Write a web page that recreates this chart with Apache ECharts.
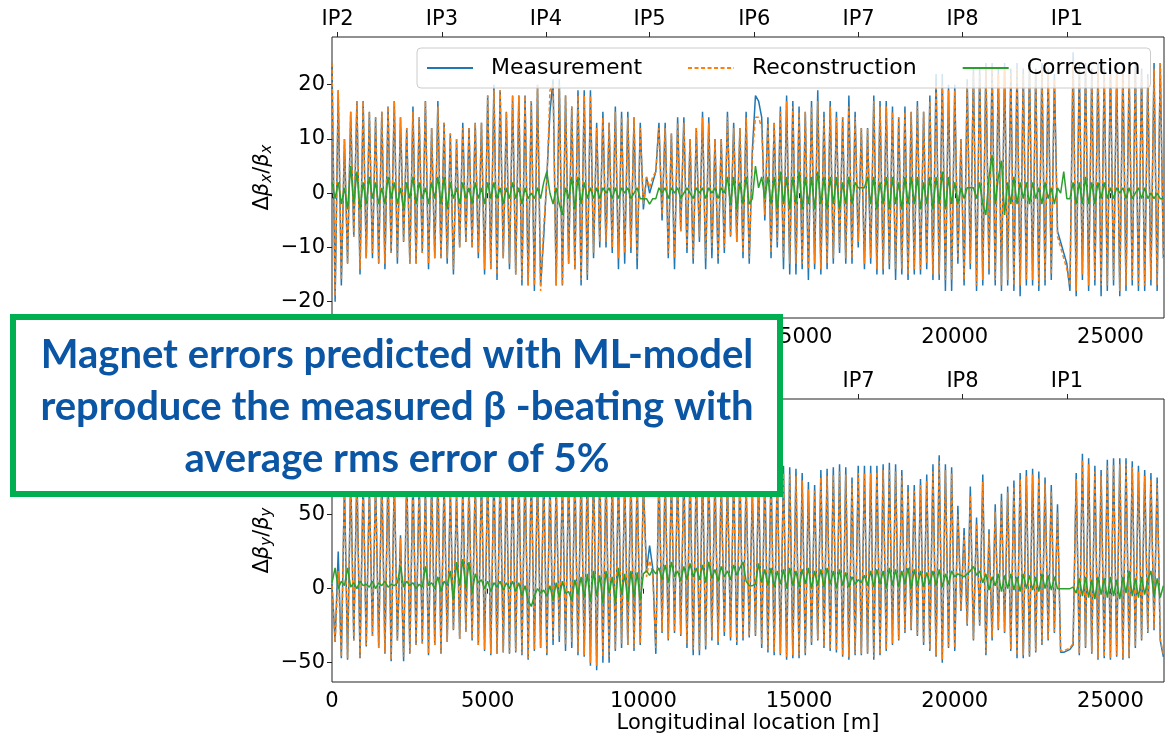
<!DOCTYPE html>
<html><head><meta charset="utf-8">
<script src="https://cdn.jsdelivr.net/npm/echarts@6.0.0/dist/echarts.min.js"></script>
<style>html,body{margin:0;padding:0;background:#fff}#c{width:1171px;height:735px}</style>
</head><body><div id="c"></div>
<script>
// ---------------- data ----------------
const sPos = [
0,100,200,300,400,500,600,700,800,900,1000,1100,1200,1300,1400,1500,1600,1700,1800,1900,
2000,2100,2200,2300,2400,2500,2600,2700,2800,2900,3000,3100,3200,3300,3400,3500,3600,3700,3800,3900,
4000,4100,4200,4300,4400,4500,4600,4700,4800,4900,5000,5100,5200,5300,5400,5500,5600,5700,5800,5900,
6000,6100,6200,6300,6400,6500,6600,6700,6800,6900,7000,7100,7200,7300,7400,7500,7600,7700,7800,7900,
8000,8100,8200,8300,8400,8500,8600,8700,8800,8900,9000,9100,9200,9300,9400,9500,9600,9700,9800,9900,
10000,10100,10200,10300,10400,10500,10600,10700,10800,10900,11000,11100,11200,11300,11400,11500,11600,11700,11800,11900,
12000,12100,12200,12300,12400,12500,12600,12700,12800,12900,13000,13100,13200,13300,13400,13500,13600,13700,13800,13900,
14000,14100,14200,14300,14400,14500,14600,14700,14800,14900,15000,15100,15200,15300,15400,15500,15600,15700,15800,15900,
16000,16100,16200,16300,16400,16500,16600,16700,16800,16900,17000,17100,17200,17300,17400,17500,17600,17700,17800,17900,
18000,18100,18200,18300,18400,18500,18600,18700,18800,18900,19000,19100,19200,19300,19400,19500,19600,19700,19800,19900,
20000,20100,20200,20300,20400,20500,20600,20700,20800,20900,21000,21100,21200,21300,21400,21500,21600,21700,21800,21900,
22000,22100,22200,22300,22400,22500,22600,22700,22800,22900,23000,23100,23200,23300,23400,23500,23600,23700,23800,23900,
24000,24100,24200,24300,24400,24500,24600,24700,24800,24900,25000,25100,25200,25300,25400,25500,25600,25700,25800,25900,
26000,26100,26200,26300,26400,26500,26600,26700];

// horizontal beta-beating (%)
const measX = [
24,-20,19,-17,10,-13,15,-8,17,-15,17,-12,15,-12,14,-13,15,-14,16,-11,
17,-13,14,-9,12,-13,16,-13,14,-11,17,-14,12,-12,17,-12,13,-13,11,-15,
10,-10,13,-9,12,-10,13,-12,13,-15,18,-14,20,-16,19,-12,15,-14,18,-15,
18,-17,18,-17,17,-18,20,-17,-8,3,15,21,-17,21,-17,18,-13,16,-14,19,
-17,19,-16,19,-12,13,-10,15,-10,13,-11,16,-14,15,-13,15,-11,14,-14,13,
-3,3,0,2,4,13,-5,13,-12,11,-14,14,-7,14,-11,10,-13,12,-9,15,
-14,14,-12,10,-13,10,-11,15,-8,13,-9,12,-12,15,-13,8,18,17,14,-5,
14,-12,13,-10,16,-14,18,-15,17,-15,16,-14,15,-16,17,-14,19,-15,15,-14,
17,-13,15,-11,14,-13,18,-13,15,-10,12,-14,12,-13,18,-15,17,-15,17,-14,
16,-16,14,-15,16,-16,15,-15,17,-15,15,-14,18,-16,22,-16,22,-18,20,-18,
20,-13,10,-17,21,-14,23,-18,23,-17,24,-15,24,-17,23,-18,24,-17,23,-18,
24,-19,23,-17,24,-17,23,-18,24,-17,23,-16,22,-7,-9,-11,-13,-18,26,-19,
24,-16,24,-18,23,-17,24,-19,23,-18,24,-17,23,-19,24,-18,23,-17,24,-18,
23,-18,22,-17,24,-18,24,-12];
const reconX = [
24,-19,19,-16,10,-13,15,-8,17,-14,17,-12,15,-11,14,-13,15,-13,16,-11,
17,-12,14,-9,12,-13,15,-13,14,-11,17,-13,12,-12,16,-12,13,-12,11,-14,
10,-10,12,-9,12,-10,13,-11,13,-14,18,-14,19,-15,19,-12,15,-13,18,-15,
18,-16,18,-17,17,-17,20,-18,-6,2,19,20,-17,20,-17,18,-13,16,-14,18,
-16,18,-15,18,-11,12,-9,14,-9,13,-10,15,-12,14,-11,14,-10,14,-12,12,
-2,3,1,3,4,12,-4,12,-11,11,-12,13,-7,13,-10,10,-12,12,-8,14,
-12,13,-10,10,-12,10,-10,14,-8,12,-9,12,-11,14,-12,7,14,14,12,-4,
13,-11,13,-9,15,-12,17,-13,16,-13,15,-13,15,-14,16,-13,17,-14,14,-13,
16,-12,14,-10,14,-12,16,-12,14,-9,12,-13,12,-12,17,-14,16,-14,16,-13,
15,-14,14,-14,15,-15,15,-14,16,-14,15,-13,17,-15,20,-15,20,-16,19,-16,
19,-12,10,-16,20,-13,22,-17,22,-16,23,-14,23,-16,22,-17,23,-16,22,-17,
23,-17,22,-16,23,-16,22,-17,23,-16,22,-15,21,-8,-10,-12,-14,-17,24,-18,
23,-15,23,-17,22,-16,23,-17,22,-17,23,-16,22,-18,23,-17,22,-16,23,-17,
22,-17,21,-16,23,-17,24,-12];
const corrX = [
2,-1,2,-2,1,-3,5,-2,4,-3,2,-2,3,-1,2,-2,1,-2,3,-1,
2,-2,1,-3,2,-1,3,-2,2,-1,1,-2,2,-1,3,-2,3,-3,2,-1,
1,-2,2,-1,1,-2,2,-1,1,-2,2,-1,2,-1,1,-2,1,-1,2,-1,
1,-2,1,-1,0,-1,1,-1,2,4,0,-2,1,-2,-4,1,-1,3,-3,3,
-2,2,-1,1,-1,1,-1,1,0,1,-1,1,-1,1,0,1,-1,0,1,-1,
-1,-1,-2,-1,-1,1,0,1,-1,1,0,1,-1,0,1,0,-1,1,0,1,
-1,1,0,1,-1,1,0,3,-2,3,-3,2,-2,3,-2,-1,5,1,3,-1,
3,-2,3,-3,4,-2,3,-3,3,-2,4,-3,3,-2,3,-3,4,-2,3,-3,
3,-2,3,-3,2,-2,3,-2,2,1,1,1,3,-2,3,-3,2,-2,3,-3,
3,-2,2,-3,3,-2,3,-2,3,-3,2,-2,3,-3,3,-2,4,-3,3,-2,
2,-2,1,-1,1,1,1,-1,2,-2,-4,3,7,-2,3,6,-4,2,-2,3,
-2,2,-1,2,-2,2,-1,1,-2,2,-1,1,-2,1,0,4,-1,-1,2,-2,
2,-2,3,-2,2,-2,2,-1,2,-1,1,-1,1,0,1,-1,1,-1,0,1,
-1,1,-1,0,-1,0,-1,-1];

// vertical beta-beating (%)
const measY = [
3,-36,25,-47,72,-48,78,-35,80,-47,76,-39,70,-32,74,-40,79,-44,82,-49,
76,-35,36,-49,80,-44,78,-38,74,-37,70,-45,76,-38,80,-44,74,-36,68,-28,
66,-34,70,-29,72,-35,75,-38,78,-42,80,-45,82,-44,80,-43,78,-44,80,-43,
82,-45,84,-48,82,-42,80,-40,78,-45,76,-38,74,-36,76,-42,78,-40,80,-45,
82,-46,84,-52,86,-55,84,-50,82,-50,80,-42,78,-40,76,-38,78,-42,76,-38,
72,12,29,14,-44,80,-30,78,-35,76,-30,78,-32,80,-40,82,-45,84,-45,82,
-41,80,-35,78,-38,76,-32,76,-35,78,-38,80,-35,74,-33,68,-32,76,-40,80,
-43,82,-45,83,-45,83,-48,82,-47,81,-47,78,-45,72,-38,70,-35,80,-40,81,
-42,82,-43,84,-46,82,-48,75,-45,83,-45,83,-44,83,-48,83,-45,84,-42,85,
-38,84,-35,80,-30,70,-28,70,-32,74,-38,77,-42,84,-46,90,-50,84,-40,82,
-42,56,-15,41,-25,69,-35,48,-25,77,-45,40,-35,57,-28,64,-30,69,-42,73,
-47,78,-47,80,-46,81,-43,79,-38,75,-35,70,-30,57,-43,-43,-42,-41,-38,78,
-45,91,-40,88,-44,83,-48,80,-47,87,-48,88,-46,88,-48,88,-47,86,-40,83,
-35,80,-30,78,-28,75,-35,-46];
const reconY = [
2,-36,12,-46,70,-47,76,-35,78,-46,74,-38,68,-32,72,-40,77,-43,80,-48,
74,-35,34,-46,78,-43,76,-38,72,-37,68,-44,74,-38,78,-43,72,-36,66,-28,
64,-34,68,-29,70,-34,73,-38,76,-41,78,-44,80,-44,78,-43,76,-43,78,-42,
80,-44,82,-47,80,-41,78,-40,76,-44,74,-34,72,-32,74,-38,76,-36,78,-43,
80,-45,82,-50,84,-52,82,-46,80,-46,78,-41,76,-37,74,-38,76,-40,74,-37,
70,8,19,10,-40,78,-29,76,-34,74,-29,76,-31,78,-37,80,-41,82,-42,80,
-39,78,-33,76,-36,74,-30,74,-33,76,-36,78,-34,72,-32,66,-31,72,-38,76,
-41,77,-43,78,-44,78,-46,77,-45,76,-45,73,-44,67,-37,66,-34,75,-39,76,
-41,77,-42,79,-45,77,-46,71,-44,78,-44,78,-43,78,-46,79,-44,80,-41,80,
-37,79,-34,76,-29,66,-27,66,-31,70,-37,73,-41,79,-45,86,-48,80,-39,78,
-40,50,-14,36,-24,63,-34,44,-24,72,-43,37,-33,52,-27,60,-29,65,-41,69,
-45,74,-45,76,-45,77,-42,75,-37,71,-34,66,-29,52,-42,-42,-41,-40,-37,74,
-44,87,-39,84,-43,79,-47,76,-46,83,-47,84,-45,84,-47,84,-46,82,-39,79,
-34,76,-29,74,-27,71,-34,-44];
const corrY = [
4,14,0,5,2,14,1,4,0,5,2,3,1,5,0,4,2,5,1,3,
2,4,15,1,5,2,4,0,3,1,15,2,4,0,8,-2,5,2,12,-8,
18,2,20,0,18,-3,10,4,6,0,5,-2,4,1,5,-1,4,0,5,-2,
4,-5,2,-8,-12,-5,0,-3,-1,-5,2,-8,4,-6,5,-3,-2,-8,6,-4,
8,-6,10,-9,12,-5,9,-10,12,-3,8,-10,14,-4,10,-9,12,-6,11,-8,
10,12,9,13,10,14,6,16,4,18,8,12,5,15,6,17,8,14,6,16,
4,18,7,13,5,15,8,12,6,16,9,14,18,5,2,2,3,17,4,13,
2,14,1,12,3,13,0,14,2,12,1,13,3,14,0,12,2,13,1,14,
3,12,0,13,2,11,1,8,3,6,4,9,2,12,1,13,3,12,0,14,
2,13,1,12,3,14,0,13,2,12,1,11,3,12,2,13,1,10,3,12,
8,10,9,8,10,12,15,9,12,4,10,-1,8,2,10,-2,9,0,10,-1,
8,-2,10,0,9,-1,8,-2,10,0,9,-1,8,0,0,0,0,0,1,-3,
7,-5,8,-6,6,-7,8,-4,7,-6,8,-5,6,-7,8,-3,12,-5,7,-6,
8,-4,6,12,-5,7,-6,2];

const seriesNames = ['Measurement', 'Reconstruction', 'Correction'];
const xTicks = [0, 5000, 10000, 15000, 20000, 25000];
const yTicksX = [-20, -10, 0, 10, 20];
const yTicksY = [-50, 0, 50, 100];
const ipNames = ['IP2', 'IP3', 'IP4', 'IP5', 'IP6', 'IP7', 'IP8', 'IP1'];
const ipPos = [180, 3532, 6872, 10199, 13561, 16911, 20250, 23603];
const xAxisTitle = 'Longitudinal location [m]';
const boxLines = ['Magnet errors predicted with ML-model', 'reproduce the measured \u03b2 -beating with', 'average rms error of 5%'];

// ---------------- chart ----------------
[measX, reconX, corrX, measY, reconY, corrY].forEach((a, k) => {
  if (a.length !== sPos.length) throw new Error('array ' + k + ' length ' + a.length + ' != ' + sPos.length);
});

const X_MIN = 0, X_MAX = 26720;
const FONT = 'DejaVu Sans';
const COLORS = ['#1f77b4', '#ff7f0e', '#2ca02c'];
const AX = '#222';

function pts(arr) { return sPos.map((x, i) => [x, arr[i]]); }
function minusFmt(v) { return v < 0 ? '\u2212' + Math.abs(v) : String(v); }
function tick(vals) { return { show: true, length: 5, customValues: vals, lineStyle: { color: AX, width: 1 } }; }
function lab(vals, fmt, margin) { return { customValues: vals, formatter: fmt, fontSize: 21, fontFamily: FONT, color: '#000', margin: margin }; }
function ipFmt(v) {
  let k = 0, b = Infinity;
  ipPos.forEach((p, j) => { if (Math.abs(p - v) < b) { b = Math.abs(p - v); k = j; } });
  return ipNames[k];
}
function bottomX(g, extra) {
  return Object.assign({ gridIndex: g, type: 'value', min: X_MIN, max: X_MAX, position: 'bottom',
    axisLine: { show: false }, splitLine: { show: false },
    axisTick: tick(xTicks), axisLabel: lab(xTicks, v => String(v), 9) }, extra || {});
}
function topX(g) {
  return { gridIndex: g, type: 'value', min: X_MIN, max: X_MAX, position: 'top',
    axisLine: { show: false }, splitLine: { show: false },
    axisTick: tick(ipPos), axisLabel: lab(ipPos, ipFmt, 7) };
}
const richName = {
  d: { fontSize: 21, fontFamily: FONT, color: '#000' },
  b: { fontSize: 21, fontFamily: FONT, fontStyle: 'italic', color: '#000' },
  s: { fontSize: 15, fontFamily: FONT, fontStyle: 'italic', color: '#000', padding: [10, 0, 0, 0] }
};
function yName(sub) { return '{d|\u0394}{b|\u03b2}{s|' + sub + '}{d|/}{b|\u03b2}{s|' + sub + '}'; }
function yAx(g, min, max, ticks, sub) {
  return { gridIndex: g, type: 'value', min: min, max: max,
    axisLine: { show: false }, splitLine: { show: false },
    axisTick: tick(ticks), axisLabel: lab(ticks, minusFmt, 7),
    name: yName(sub), nameLocation: 'middle', nameRotate: 90, nameGap: 57, nameMoveOverlap: false,
    nameTextStyle: { rich: richName } };
}

const series = [];
[[measX, reconX, corrX], [measY, reconY, corrY]].forEach((set, g) => {
  set.forEach((arr, k) => {
    series.push({
      name: seriesNames[k], type: 'line', xAxisIndex: g * 2, yAxisIndex: g,
      data: pts(arr), symbol: 'none', showSymbol: false, silent: true, clip: true,
      lineStyle: { color: COLORS[k], width: 1.5, type: k === 1 ? [4, 2.5] : 'solid' },
      itemStyle: { color: COLORS[k] }
    });
  });
});

const chart = echarts.init(document.getElementById('c'), null, { renderer: 'canvas' });
chart.setOption({
  animation: false,
  backgroundColor: '#fff',
  grid: [
    { left: 332, top: 37, width: 832, height: 281, show: true, borderColor: AX, borderWidth: 1, backgroundColor: 'transparent' },
    { left: 332, top: 399, width: 832, height: 283, show: true, borderColor: AX, borderWidth: 1, backgroundColor: 'transparent' }
  ],
  xAxis: [
    bottomX(0), topX(0),
    bottomX(1, { name: xAxisTitle, nameLocation: 'middle', nameGap: 31, nameMoveOverlap: false,
      nameTextStyle: { fontSize: 21, fontFamily: FONT, color: '#000' } }),
    topX(1)
  ],
  yAxis: [
    yAx(0, -23, 28.8, yTicksX, 'x'),
    yAx(1, -63, 128, yTicksY, 'y')
  ],
  legend: {
    data: seriesNames, left: 417, top: 48, orient: 'horizontal',
    padding: [9, 10, 9, 9], itemWidth: 46, itemHeight: 6, itemGap: 45,
    selectedMode: false,
    itemStyle: { opacity: 0 },
    textStyle: { fontSize: 22, fontFamily: FONT, color: '#000', padding: [0, 0, 0, 13] },
    backgroundColor: 'rgba(255,255,255,0.8)', borderColor: '#cccccc', borderWidth: 1, borderRadius: 4
  },
  series: series,
  graphic: [
    { type: 'rect', z: 100, shape: { x: 13, y: 317, width: 767, height: 177 },
      style: { fill: '#ffffff', stroke: '#00b050', lineWidth: 6 } },
    { type: 'text', z: 101, x: 397, y: 407,
      style: { text: boxLines.join('\n'), fontFamily: 'Lato', fontWeight: 'bold', fontSize: 40,
        lineHeight: 52, fill: '#0b56a4', align: 'center', verticalAlign: 'middle' } }
  ]
});
</script></body></html>
